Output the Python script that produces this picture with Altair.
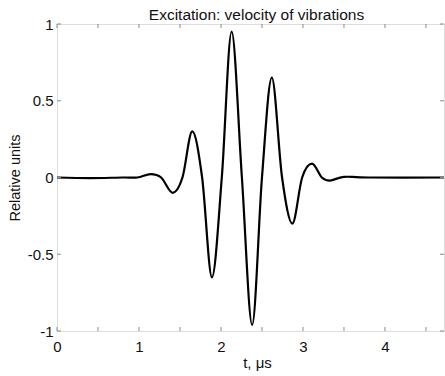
import altair as alt
import pandas as pd

# Excitation pulse: time (microseconds) and relative velocity amplitude
t_us = [0.0, 0.4, 0.8, 0.98, 1.14, 1.27, 1.41, 1.53, 1.65, 1.77, 1.89, 2.01, 2.13,
        2.255, 2.38, 2.50, 2.62, 2.745, 2.87, 2.99, 3.11, 3.23, 3.33, 3.5, 3.8, 4.72]
velocity = [0.0, -0.004, 0.0, 0.0, 0.022, 0.0, -0.10, 0.0, 0.30, 0.0, -0.65, 0.0, 0.95,
            0.0, -0.96, 0.0, 0.65, 0.0, -0.30, 0.0, 0.09, 0.0, -0.02, 0.004, 0.0, 0.0]

x_ticks = [0, 0.5, 1, 1.5, 2, 2.5, 3, 3.5, 4, 4.5]
x_labels = [0, 1, 2, 3, 4]
y_ticks = [-1, -0.5, 0, 0.5, 1]

X_DOMAIN = [0, 4.72]
Y_DOMAIN = [-1, 1]
W, H = 387, 307
FONT = "Liberation Sans"
FRAME = "#8a8a8a"
TEXT = "#111"

pulse = pd.DataFrame({"t": t_us, "v": velocity})
xt = pd.DataFrame({"tx": x_ticks})
yt = pd.DataFrame({"ty": y_ticks})

xscale = alt.Scale(domain=X_DOMAIN, nice=False, zero=False)
yscale = alt.Scale(domain=Y_DOMAIN, nice=False, zero=False)

line = alt.Chart(pulse).mark_line(
    color="black", strokeWidth=2.2, interpolate="cardinal"
).encode(
    x=alt.X("t:Q", scale=xscale, title="t, μs",
            axis=alt.Axis(values=x_labels, labelExpr="'' + datum.value",
                          tickSize=0, domain=False, grid=False, labelFlush=False,
                          labelFontSize=15, labelPadding=8, labelFont=FONT,
                          labelColor=TEXT, titleFont=FONT, titleFontSize=15,
                          titleFontWeight="normal", titleColor=TEXT,
                          titlePadding=1, titleX=200)),
    y=alt.Y("v:Q", scale=yscale, title="Relative units",
            axis=alt.Axis(values=y_ticks, labelExpr="'' + datum.value",
                          tickSize=0, domain=False, grid=False, labelFlush=False,
                          labelFontSize=15, labelPadding=4, labelFont=FONT,
                          labelColor=TEXT, titleFont=FONT, titleFontSize=14.5,
                          titleFontWeight="normal", titleColor=TEXT,
                          titlePadding=5)),
)

tick_len = 4
bottom_ticks = alt.Chart(xt).mark_rule(color=FRAME, strokeWidth=1).encode(
    x=alt.X("tx:Q", scale=xscale),
    y=alt.value(H), y2=alt.value(H - tick_len))
top_ticks = alt.Chart(xt).mark_rule(color=FRAME, strokeWidth=1).encode(
    x=alt.X("tx:Q", scale=xscale),
    y=alt.value(0), y2=alt.value(tick_len))
left_ticks = alt.Chart(yt).mark_rule(color=FRAME, strokeWidth=1).encode(
    y=alt.Y("ty:Q", scale=yscale),
    x=alt.value(0), x2=alt.value(tick_len))
right_ticks = alt.Chart(yt).mark_rule(color=FRAME, strokeWidth=1).encode(
    y=alt.Y("ty:Q", scale=yscale),
    x=alt.value(W), x2=alt.value(W - tick_len))

chart = alt.layer(line, bottom_ticks, top_ticks, left_ticks, right_ticks).properties(
    width=W, height=H,
    title=alt.TitleParams("Excitation: velocity of vibrations", font=FONT,
                          fontSize=15.5, fontWeight="normal", color=TEXT,
                          anchor="middle", dx=6, dy=11, offset=5),
    autosize=alt.AutoSizeParams(type="none"),
    padding={"left": 57, "top": 24, "right": 1, "bottom": 45},
).configure_view(stroke=FRAME, strokeWidth=1).configure(background="white")

chart.save("out.html", embed_options={"renderer": "svg", "actions": False})
